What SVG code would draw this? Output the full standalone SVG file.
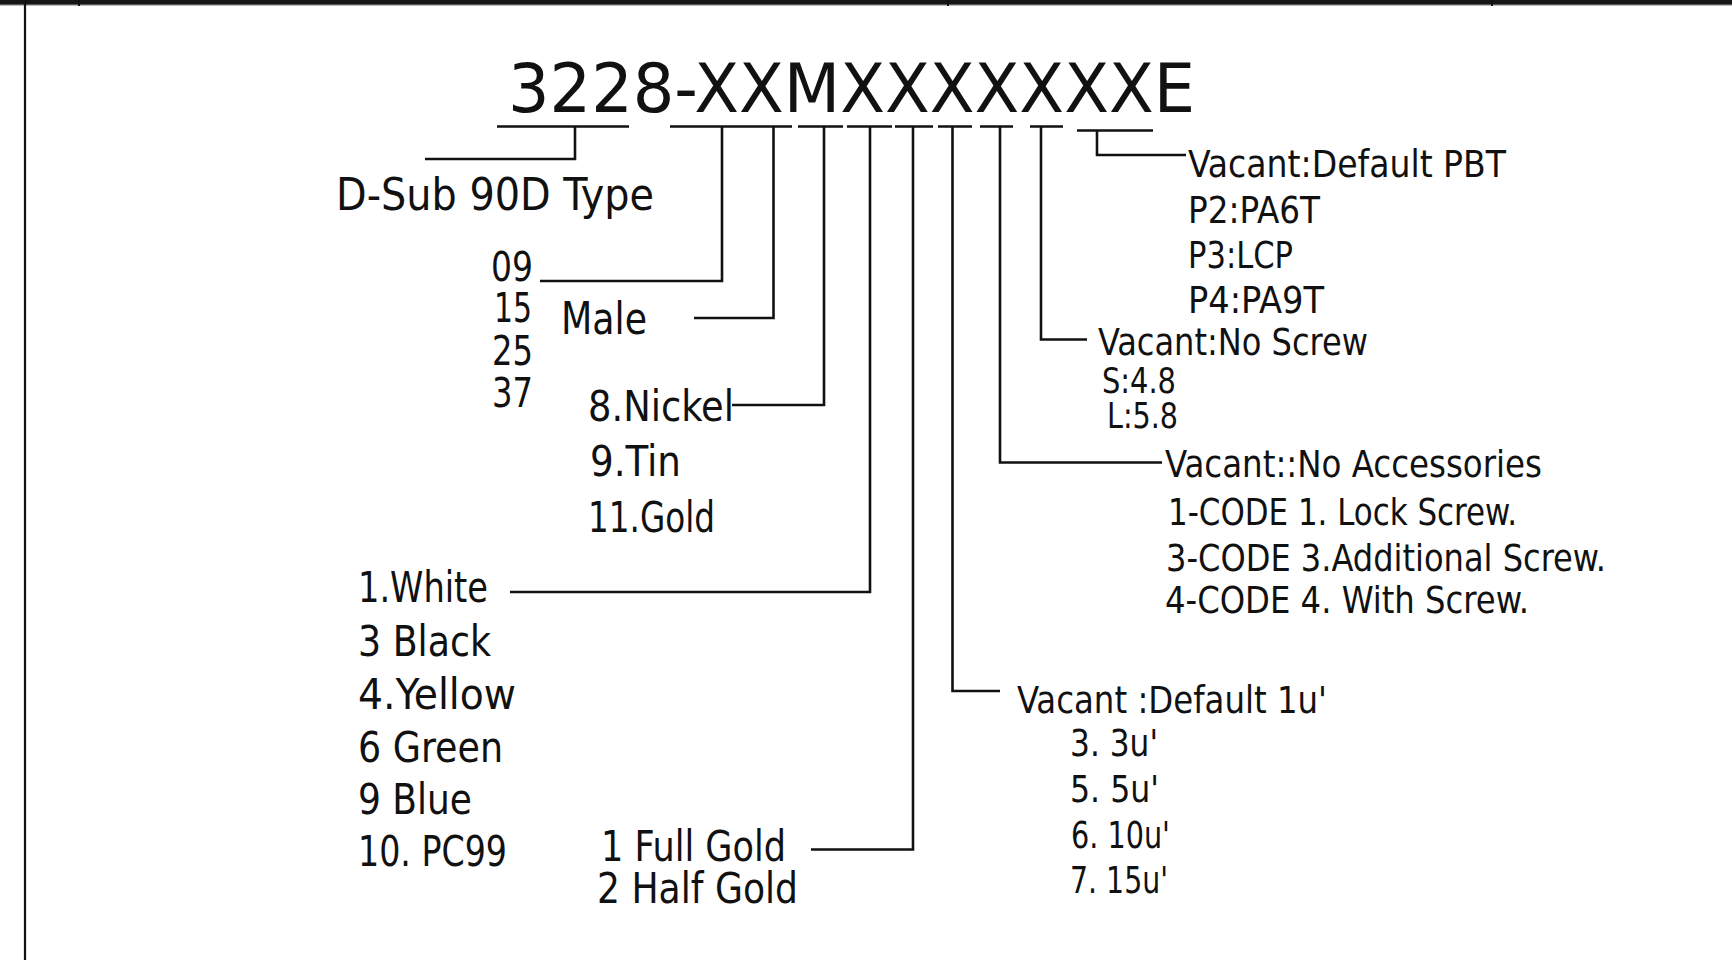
<svg xmlns="http://www.w3.org/2000/svg" width="1732" height="960" viewBox="0 0 1732 960">
<style>
  .t { font-family: "DejaVu Sans Condensed", "DejaVu Sans", "Liberation Sans", sans-serif; fill: #111; }
  .c { fill: none; stroke: #111; stroke-width: 2.6; stroke-linecap: butt; stroke-linejoin: miter; }
  .f { fill: none; stroke: #111; }
  .s35 { font-size: 35px; }
  .s37 { font-size: 37px; }
  .s39 { font-size: 38px; }
  .s41 { font-size: 41px; }
  .s43 { font-size: 43px; }
  .s45 { font-size: 45px; }
</style>
<rect x="0" y="0" width="1732" height="960" fill="#ffffff"/>
<g id="frame">
  <rect x="0" y="0" width="1732" height="4" fill="#151515"/>
  <line class="f" x1="0" y1="4.8" x2="1732" y2="4.8" stroke="#9a9a9a" stroke-width="1"/>
  <line class="f" x1="25" y1="0" x2="25" y2="960" stroke-width="2.2"/>
  <line class="f" x1="79" y1="0" x2="79" y2="6" stroke-width="2"/>
  <line class="f" x1="948" y1="0" x2="948" y2="6" stroke-width="2"/>
  <line class="f" x1="1492" y1="0" x2="1492" y2="6" stroke-width="2"/>
</g>
<g id="connectors">
  <path class="c" d="M497 126.5H629 M575 126.5V159H425"/>
  <path class="c" d="M670 126.5H792 M798 126.5H843 M847 126.5H892 M895 126.5H933 M938 126.5H972 M980 126.5H1013 M1030 126.5H1063 M1077 130.5H1153"/>
  <path class="c" d="M722 126.5V281H540"/>
  <path class="c" d="M773.5 126.5V318H694"/>
  <path class="c" d="M824 126.5V405H732"/>
  <path class="c" d="M870 126.5V592H510"/>
  <path class="c" d="M913 126.5V849.5H811"/>
  <path class="c" d="M952.5 126.5V691H1000"/>
  <path class="c" d="M1000 126.5V462.5H1162"/>
  <path class="c" d="M1041 126.5V339.5H1087"/>
  <path class="c" d="M1097 130.5V155H1186"/>
</g>
<g id="part-number">
  <text class="t" x="508" y="112" font-size="68" textLength="687" lengthAdjust="spacingAndGlyphs">3228-XXMXXXXXXXE</text>
</g>
<g id="type">
  <text class="t s45" x="336" y="210" textLength="318" lengthAdjust="spacingAndGlyphs">D-Sub 90D Type</text>
</g>
<g id="positions">
  <text class="t s41" x="491" y="281" textLength="42" lengthAdjust="spacingAndGlyphs">09</text>
  <text class="t s41" x="494" y="322" textLength="38" lengthAdjust="spacingAndGlyphs">15</text>
  <text class="t s41" x="492" y="365" textLength="41" lengthAdjust="spacingAndGlyphs">25</text>
  <text class="t s41" x="492" y="407" textLength="41" lengthAdjust="spacingAndGlyphs">37</text>
</g>
<g id="gender">
  <text class="t s45" x="561" y="334" textLength="86" lengthAdjust="spacingAndGlyphs">Male</text>
</g>
<g id="shell-plating">
  <text class="t s43" x="588" y="421" textLength="146" lengthAdjust="spacingAndGlyphs">8.Nickel</text>
  <text class="t s43" x="590" y="476" textLength="91" lengthAdjust="spacingAndGlyphs">9.Tin</text>
  <text class="t s43" x="588" y="532" textLength="127" lengthAdjust="spacingAndGlyphs">11.Gold</text>
</g>
<g id="color">
  <text class="t s43" x="358" y="602" textLength="130" lengthAdjust="spacingAndGlyphs">1.White</text>
  <text class="t s43" x="358" y="656" textLength="133" lengthAdjust="spacingAndGlyphs">3 Black</text>
  <text class="t s43" x="358" y="709" textLength="158" lengthAdjust="spacingAndGlyphs">4.Yellow</text>
  <text class="t s43" x="358" y="762" textLength="145" lengthAdjust="spacingAndGlyphs">6 Green</text>
  <text class="t s43" x="358" y="814" textLength="114" lengthAdjust="spacingAndGlyphs">9 Blue</text>
  <text class="t s43" x="358" y="866" textLength="149" lengthAdjust="spacingAndGlyphs">10. PC99</text>
</g>
<g id="contact-plating">
  <text class="t s43" x="601" y="861" textLength="185" lengthAdjust="spacingAndGlyphs">1 Full Gold</text>
  <text class="t s43" x="597" y="903" textLength="201" lengthAdjust="spacingAndGlyphs">2 Half Gold</text>
</g>
<g id="gold-thickness">
  <text class="t s37" x="1017" y="713" textLength="310" lengthAdjust="spacingAndGlyphs">Vacant :Default 1u'</text>
  <text class="t s37" x="1070" y="756" textLength="88" lengthAdjust="spacingAndGlyphs">3. 3u'</text>
  <text class="t s37" x="1070" y="802" textLength="89" lengthAdjust="spacingAndGlyphs">5. 5u'</text>
  <text class="t s37" x="1071" y="848" textLength="99" lengthAdjust="spacingAndGlyphs">6. 10u'</text>
  <text class="t s37" x="1070" y="893" textLength="98" lengthAdjust="spacingAndGlyphs">7. 15u'</text>
</g>
<g id="accessories">
  <text class="t s39" x="1165" y="477" textLength="377" lengthAdjust="spacingAndGlyphs">Vacant::No Accessories</text>
  <text class="t s39" x="1168" y="525" textLength="349" lengthAdjust="spacingAndGlyphs">1-CODE 1. Lock Screw.</text>
  <text class="t s39" x="1166" y="571" textLength="440" lengthAdjust="spacingAndGlyphs">3-CODE 3.Additional Screw.</text>
  <text class="t s39" x="1165" y="613" textLength="364" lengthAdjust="spacingAndGlyphs">4-CODE 4. With Screw.</text>
</g>
<g id="screw">
  <text class="t s37" x="1098" y="355" textLength="270" lengthAdjust="spacingAndGlyphs">Vacant:No Screw</text>
  <text class="t s35" x="1102" y="393" textLength="74" lengthAdjust="spacingAndGlyphs">S:4.8</text>
  <text class="t s35" x="1107" y="428" textLength="71" lengthAdjust="spacingAndGlyphs">L:5.8</text>
</g>
<g id="material">
  <text class="t s37" x="1188" y="177" textLength="318" lengthAdjust="spacingAndGlyphs">Vacant:Default PBT</text>
  <text class="t s37" x="1188" y="223" textLength="132" lengthAdjust="spacingAndGlyphs">P2:PA6T</text>
  <text class="t s37" x="1188" y="268" textLength="105" lengthAdjust="spacingAndGlyphs">P3:LCP</text>
  <text class="t s37" x="1188" y="313" textLength="136" lengthAdjust="spacingAndGlyphs">P4:PA9T</text>
</g>
</svg>
